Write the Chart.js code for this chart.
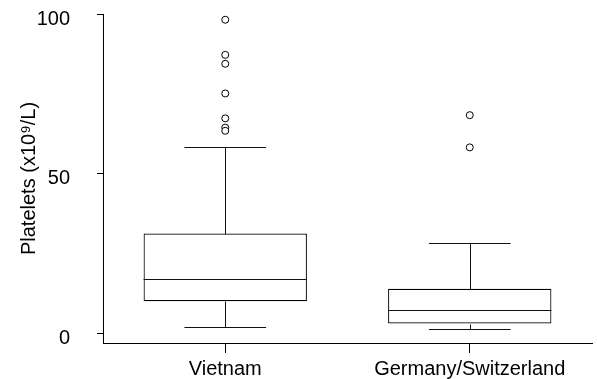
<!DOCTYPE html>
<html><head><meta charset="utf-8">
<script src="https://cdn.jsdelivr.net/npm/chart.js@4/dist/chart.umd.min.js"></script>
<style>html,body{margin:0;padding:0;background:#fff;}</style>
</head><body>
<canvas id="c" width="597" height="379"></canvas>
<script>
const categories = ['Vietnam', 'Germany/Switzerland'];
const q1 = [10, 3];
const medians = [17, 7.2];
const q3 = [31.2, 13.9];
const whiskerLow = [2, 1.2];
const whiskerHigh = [58.2, 28.2];
const outliersVietnam = [98.2, 87.2, 84.4, 75.1, 67.3, 64.4, 63.4];
const outliersGermany = [68.3, 58.2];
const yTicks = [0, 50, 100];
const yMin = -3.1, yMax = 100;

const outlierPoints = [];
outliersVietnam.forEach(v => outlierPoints.push({x: categories[0], y: v}));
outliersGermany.forEach(v => outlierPoints.push({x: categories[1], y: v}));

Chart.defaults.font.family = "'Liberation Sans', Arial, sans-serif";
Chart.defaults.font.size = 20;
Chart.defaults.color = '#000';

const LINE = '#111';
const boxPlugin = {
  id: 'boxWhiskers',
  afterDatasetsDraw(chart) {
    const ctx = chart.ctx;
    const y = chart.scales.y;
    const meta = chart.getDatasetMeta(0);
    ctx.save();
    ctx.strokeStyle = LINE;
    ctx.lineWidth = 1;
    meta.data.forEach((bar, i) => {
      const cx = Math.round(bar.x) + 0.5;
      const w = bar.width;
      const py = v => Math.round(y.getPixelForValue(v)) + 0.5;
      ctx.beginPath();
      ctx.moveTo(bar.x - w / 2, py(medians[i]));
      ctx.lineTo(bar.x + w / 2, py(medians[i]));
      ctx.moveTo(cx, py(q3[i]));
      ctx.lineTo(cx, py(whiskerHigh[i]));
      ctx.moveTo(bar.x - w / 4, py(whiskerHigh[i]));
      ctx.lineTo(bar.x + w / 4, py(whiskerHigh[i]));
      ctx.moveTo(cx, py(q1[i]));
      ctx.lineTo(cx, py(whiskerLow[i]));
      ctx.moveTo(bar.x - w / 4, py(whiskerLow[i]));
      ctx.lineTo(bar.x + w / 4, py(whiskerLow[i]));
      ctx.stroke();
    });
    ctx.restore();
  }
};

new Chart(document.getElementById('c'), {
  type: 'bar',
  data: {
    labels: categories,
    datasets: [
      {
        type: 'bar',
        data: q1.map((v, i) => [v, q3[i]]),
        backgroundColor: '#fff',
        borderColor: '#000',
        borderWidth: 1.2,
        borderSkipped: false,
        barPercentage: 0.668,
        categoryPercentage: 1
      },
      {
        type: 'scatter',
        data: outlierPoints,
        pointRadius: 3.5,
        pointBorderWidth: 1,
        pointBorderColor: '#000',
        pointBackgroundColor: '#fff',
        showLine: false
      }
    ]
  },
  options: {
    responsive: false,
    animation: false,
    layout: {padding: {top: 14, right: 0, left: 0, bottom: 0}},
    plugins: {legend: {display: false}, tooltip: {enabled: false}},
    scales: {
      x: {
        type: 'category',
        offset: true,
        afterFit: s => { s.height = 36; s.paddingLeft = 0; s.paddingRight = 0; },
        border: {display: true, color: '#000', width: 1},
        grid: {display: true, offset: false, drawOnChartArea: false, drawTicks: true, tickLength: 10, color: '#000'},
        ticks: {padding: 4, color: '#000', font: {size: 20}, maxRotation: 0, autoSkip: false}
      },
      y: {
        type: 'linear',
        min: yMin, max: yMax,
        afterBuildTicks: s => { s.ticks = yTicks.map(v => ({value: v})); },
        afterFit: s => { s.width = 103; s.paddingTop = 0; s.paddingBottom = 0; },
        border: {display: true, color: '#000', width: 1},
        grid: {display: true, drawOnChartArea: false, drawTicks: true, tickLength: 6, color: '#000'},
        ticks: {padding: 27, labelOffset: 5, color: '#000', font: {size: 20}},
        title: {display: true, text: 'Platelets (x10⁹/L)', color: '#000', font: {size: 20}, padding: {top: 17, bottom: 0}}
      }
    }
  },
  plugins: [boxPlugin]
});
</script>
</body></html>
